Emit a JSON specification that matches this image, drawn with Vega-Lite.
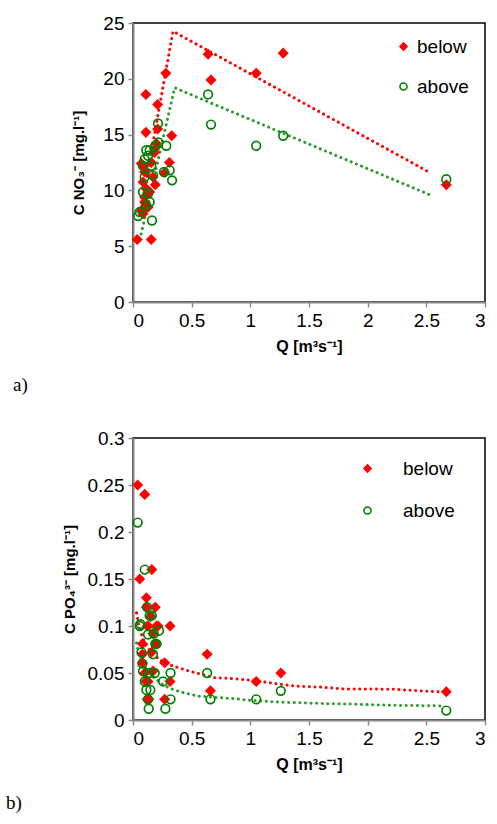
{
  "$schema": "https://vega.github.io/schema/vega-lite/v6.json",
  "padding": {"top": 13, "left": 5, "right": 5, "bottom": 5},
  "background": "white",
  "datasets": {
    "no3pts": [
      {"q": 0.036, "c": 5.6, "s": "below"}, {"q": 0.155, "c": 5.6, "s": "below"},
      {"q": 0.11, "c": 18.6, "s": "below"}, {"q": 0.28, "c": 20.5, "s": "below"},
      {"q": 0.21, "c": 17.7, "s": "below"}, {"q": 0.11, "c": 15.2, "s": "below"},
      {"q": 0.21, "c": 15.5, "s": "below"}, {"q": 0.33, "c": 14.9, "s": "below"},
      {"q": 0.31, "c": 12.5, "s": "below"}, {"q": 0.27, "c": 11.6, "s": "below"},
      {"q": 0.64, "c": 22.2, "s": "below"}, {"q": 0.665, "c": 19.9, "s": "below"},
      {"q": 1.05, "c": 20.5, "s": "below"}, {"q": 1.28, "c": 22.3, "s": "below"},
      {"q": 2.67, "c": 10.5, "s": "below"}, {"q": 0.071, "c": 12.4, "s": "below"},
      {"q": 0.099, "c": 11.65, "s": "below"}, {"q": 0.085, "c": 10.75, "s": "below"},
      {"q": 0.113, "c": 10.15, "s": "below"}, {"q": 0.142, "c": 9.86, "s": "below"},
      {"q": 0.099, "c": 8.96, "s": "below"}, {"q": 0.071, "c": 8.2, "s": "below"},
      {"q": 0.128, "c": 8.5, "s": "below"}, {"q": 0.156, "c": 12.5, "s": "below"},
      {"q": 0.199, "c": 14.2, "s": "below"}, {"q": 0.184, "c": 13.4, "s": "below"},
      {"q": 0.17, "c": 11.2, "s": "below"}, {"q": 0.099, "c": 9.4, "s": "below"},
      {"q": 0.085, "c": 7.9, "s": "below"}, {"q": 0.19, "c": 10.5, "s": "below"},
      {"q": 0.085, "c": 12.2, "s": "below"}, {"q": 0.184, "c": 13.7, "s": "below"},
      {"q": 0.213, "c": 16.0, "s": "above"}, {"q": 0.284, "c": 14.0, "s": "above"},
      {"q": 0.313, "c": 11.8, "s": "above"}, {"q": 0.333, "c": 10.9, "s": "above"},
      {"q": 0.264, "c": 11.65, "s": "above"}, {"q": 0.142, "c": 13.6, "s": "above"},
      {"q": 0.113, "c": 13.6, "s": "above"}, {"q": 0.099, "c": 12.8, "s": "above"},
      {"q": 0.19, "c": 14.0, "s": "above"}, {"q": 0.085, "c": 12.2, "s": "above"},
      {"q": 0.171, "c": 11.35, "s": "above"}, {"q": 0.099, "c": 11.2, "s": "above"},
      {"q": 0.085, "c": 9.86, "s": "above"}, {"q": 0.128, "c": 9.7, "s": "above"},
      {"q": 0.142, "c": 8.96, "s": "above"}, {"q": 0.113, "c": 8.66, "s": "above"},
      {"q": 0.056, "c": 8.06, "s": "above"}, {"q": 0.043, "c": 7.7, "s": "above"},
      {"q": 0.162, "c": 7.3, "s": "above"}, {"q": 0.156, "c": 12.2, "s": "above"},
      {"q": 0.128, "c": 13.1, "s": "above"}, {"q": 0.218, "c": 14.3, "s": "above"},
      {"q": 0.64, "c": 18.6, "s": "above"}, {"q": 0.665, "c": 15.9, "s": "above"},
      {"q": 1.05, "c": 14.0, "s": "above"}, {"q": 1.28, "c": 14.9, "s": "above"},
      {"q": 2.67, "c": 11.0, "s": "above"}
    ],
    "no3line": [
      {"q": 0.06, "c": 7.8, "s": "below"}, {"q": 0.341, "c": 24.26, "s": "below"}, {"q": 2.53, "c": 11.6, "s": "below"},
      {"q": 0.058, "c": 5.6, "s": "above"}, {"q": 0.355, "c": 19.2, "s": "above"}, {"q": 2.54, "c": 9.56, "s": "above"}
    ],
    "po4pts": [
      {"q": 0.04, "c": 0.25, "s": "below"}, {"q": 0.10, "c": 0.24, "s": "below"},
      {"q": 0.057, "c": 0.15, "s": "below"}, {"q": 0.16, "c": 0.16, "s": "below"},
      {"q": 0.114, "c": 0.13, "s": "below"}, {"q": 0.114, "c": 0.12, "s": "below"},
      {"q": 0.19, "c": 0.12, "s": "below"}, {"q": 0.15, "c": 0.11, "s": "below"},
      {"q": 0.122, "c": 0.10, "s": "below"}, {"q": 0.2, "c": 0.10, "s": "below"},
      {"q": 0.316, "c": 0.10, "s": "below"}, {"q": 0.17, "c": 0.092, "s": "below"},
      {"q": 0.08, "c": 0.081, "s": "below"}, {"q": 0.2, "c": 0.081, "s": "below"},
      {"q": 0.27, "c": 0.061, "s": "below"}, {"q": 0.632, "c": 0.07, "s": "below"},
      {"q": 1.26, "c": 0.05, "s": "below"}, {"q": 1.05, "c": 0.041, "s": "below"},
      {"q": 0.66, "c": 0.031, "s": "below"}, {"q": 0.316, "c": 0.041, "s": "below"},
      {"q": 0.27, "c": 0.022, "s": "below"}, {"q": 0.12, "c": 0.022, "s": "below"},
      {"q": 0.11, "c": 0.041, "s": "below"}, {"q": 2.67, "c": 0.03, "s": "below"},
      {"q": 0.128, "c": 0.10, "s": "below"}, {"q": 0.213, "c": 0.10, "s": "below"},
      {"q": 0.157, "c": 0.072, "s": "below"}, {"q": 0.08, "c": 0.07, "s": "below"},
      {"q": 0.08, "c": 0.061, "s": "below"}, {"q": 0.1, "c": 0.05, "s": "below"},
      {"q": 0.17, "c": 0.052, "s": "below"}, {"q": 0.136, "c": 0.022, "s": "below"},
      {"q": 0.128, "c": 0.041, "s": "below"},
      {"q": 0.04, "c": 0.21, "s": "above"}, {"q": 0.10, "c": 0.16, "s": "above"},
      {"q": 0.12, "c": 0.12, "s": "above"}, {"q": 0.142, "c": 0.111, "s": "above"},
      {"q": 0.16, "c": 0.111, "s": "above"}, {"q": 0.063, "c": 0.102, "s": "above"},
      {"q": 0.057, "c": 0.10, "s": "above"}, {"q": 0.176, "c": 0.092, "s": "above"},
      {"q": 0.222, "c": 0.095, "s": "above"}, {"q": 0.128, "c": 0.091, "s": "above"},
      {"q": 0.2, "c": 0.081, "s": "above"}, {"q": 0.19, "c": 0.081, "s": "above"},
      {"q": 0.072, "c": 0.072, "s": "above"}, {"q": 0.17, "c": 0.07, "s": "above"},
      {"q": 0.08, "c": 0.06, "s": "above"}, {"q": 0.085, "c": 0.052, "s": "above"},
      {"q": 0.14, "c": 0.05, "s": "above"}, {"q": 0.185, "c": 0.05, "s": "above"},
      {"q": 0.32, "c": 0.05, "s": "above"}, {"q": 0.632, "c": 0.05, "s": "above"},
      {"q": 0.1, "c": 0.041, "s": "above"}, {"q": 0.256, "c": 0.041, "s": "above"},
      {"q": 0.114, "c": 0.032, "s": "above"}, {"q": 0.148, "c": 0.032, "s": "above"},
      {"q": 0.128, "c": 0.022, "s": "above"}, {"q": 0.32, "c": 0.022, "s": "above"},
      {"q": 0.66, "c": 0.022, "s": "above"}, {"q": 1.05, "c": 0.022, "s": "above"},
      {"q": 1.26, "c": 0.031, "s": "above"}, {"q": 0.134, "c": 0.012, "s": "above"},
      {"q": 0.276, "c": 0.012, "s": "above"}, {"q": 2.67, "c": 0.01, "s": "above"}
    ],
    "po4line": [
      {"q": 0.03, "c": 0.114, "s": "below"}, {"q": 0.05, "c": 0.100, "s": "below"},
      {"q": 0.08, "c": 0.088, "s": "below"}, {"q": 0.12, "c": 0.078, "s": "below"},
      {"q": 0.15, "c": 0.073, "s": "below"}, {"q": 0.2, "c": 0.067, "s": "below"},
      {"q": 0.265, "c": 0.061, "s": "below"}, {"q": 0.35, "c": 0.057, "s": "below"},
      {"q": 0.48, "c": 0.052, "s": "below"}, {"q": 0.6, "c": 0.048, "s": "below"},
      {"q": 0.69, "c": 0.045, "s": "below"}, {"q": 0.85, "c": 0.044, "s": "below"},
      {"q": 1.03, "c": 0.042, "s": "below"}, {"q": 1.2, "c": 0.039, "s": "below"},
      {"q": 1.38, "c": 0.036, "s": "below"}, {"q": 1.6, "c": 0.035, "s": "below"},
      {"q": 1.8, "c": 0.033, "s": "below"}, {"q": 2.0, "c": 0.033, "s": "below"},
      {"q": 2.23, "c": 0.0326, "s": "below"}, {"q": 2.45, "c": 0.031, "s": "below"},
      {"q": 2.63, "c": 0.030, "s": "below"},
      {"q": 0.03, "c": 0.082, "s": "above"}, {"q": 0.05, "c": 0.070, "s": "above"},
      {"q": 0.08, "c": 0.060, "s": "above"}, {"q": 0.12, "c": 0.052, "s": "above"},
      {"q": 0.18, "c": 0.045, "s": "above"}, {"q": 0.25, "c": 0.038, "s": "above"},
      {"q": 0.31, "c": 0.034, "s": "above"}, {"q": 0.4, "c": 0.030, "s": "above"},
      {"q": 0.55, "c": 0.0255, "s": "above"}, {"q": 0.7, "c": 0.024, "s": "above"},
      {"q": 0.835, "c": 0.023, "s": "above"}, {"q": 1.0, "c": 0.021, "s": "above"},
      {"q": 1.12, "c": 0.020, "s": "above"}, {"q": 1.25, "c": 0.019, "s": "above"},
      {"q": 1.4, "c": 0.0184, "s": "above"}, {"q": 1.66, "c": 0.0174, "s": "above"},
      {"q": 1.9, "c": 0.0168, "s": "above"}, {"q": 2.09, "c": 0.016, "s": "above"},
      {"q": 2.3, "c": 0.0155, "s": "above"}, {"q": 2.63, "c": 0.015, "s": "above"}
    ]
  },
  "config": {
    "view": {"stroke": "#000000", "strokeWidth": 1.5},
    "axis": {
      "grid": false,
      "domainColor": "#888888",
      "domainWidth": 2,
      "tickColor": "#888888",
      "tickWidth": 1.5,
      "tickSize": 5,
      "labelFont": "Liberation Sans",
      "labelFontSize": 19,
      "labelColor": "#000000",
      "labelPadding": 4,
      "format": "~g",
      "titleFont": "Liberation Sans",
      "titleFontSize": 16,
      "titleFontWeight": "bold",
      "titleColor": "#000000"
    },
    "legend": {
      "labelFont": "Liberation Sans",
      "labelFontSize": 19,
      "labelColor": "#000000",
      "padding": 0
    }
  },
  "spacing": 32,
  "resolve": {"legend": {"shape": "independent", "fill": "independent", "stroke": "independent"}},
  "vconcat": [
    {
      "width": 352,
      "height": 279,
      "title": {"text": "a)", "orient": "bottom", "anchor": "start", "frame": "group", "dx": -120, "offset": 22, "font": "Liberation Serif", "fontSize": 19, "fontWeight": "normal", "color": "#000000"},
      "layer": [
        {
          "data": {"name": "no3line"},
          "transform": [{"filter": "datum.s === 'below'"}],
          "mark": {"type": "line", "color": "#FF0000", "strokeWidth": 3, "strokeDash": [0.1, 5.5], "strokeCap": "round"},
          "encoding": {"x": {"field": "q", "type": "quantitative"}, "y": {"field": "c", "type": "quantitative"}}
        },
        {
          "data": {"name": "no3line"},
          "transform": [{"filter": "datum.s === 'above'"}],
          "mark": {"type": "line", "color": "#2E9B2E", "strokeWidth": 3, "strokeDash": [0.1, 5.5], "strokeCap": "round"},
          "encoding": {"x": {"field": "q", "type": "quantitative"}, "y": {"field": "c", "type": "quantitative"}}
        },
        {
          "data": {"name": "no3pts"},
          "mark": {"type": "point", "size": 75, "strokeWidth": 1.7, "opacity": 1},
          "encoding": {
            "x": {"field": "q", "type": "quantitative", "scale": {"domain": [0, 3], "nice": false}, "axis": {"values": [0, 0.5, 1, 1.5, 2, 2.5, 3], "title": "Q [m³s⁻¹]", "titlePadding": 8}},
            "y": {"field": "c", "type": "quantitative", "scale": {"domain": [0, 25], "nice": false}, "axis": {"values": [0, 5, 10, 15, 20, 25], "title": "C NO₃⁻ [mg.l⁻¹]", "titleFontSize": 15, "titlePadding": 16}},
            "shape": {"field": "s", "type": "nominal", "scale": {"domain": ["below", "above"], "range": ["diamond", "circle"]}, "legend": {"title": null, "orient": "none", "legendX": 261, "legendY": 14, "rowPadding": 20, "labelOffset": 4, "symbolSize": 50, "symbolStrokeWidth": 1.6}},
            "fill": {"field": "s", "type": "nominal", "scale": {"domain": ["below", "above"], "range": ["#FF0000", "transparent"]}, "legend": {"title": null, "orient": "none", "legendX": 261, "legendY": 14, "rowPadding": 20, "labelOffset": 4, "symbolSize": 50, "symbolStrokeWidth": 1.6}},
            "stroke": {"field": "s", "type": "nominal", "scale": {"domain": ["below", "above"], "range": ["#FF0000", "#008000"]}, "legend": {"title": null, "orient": "none", "legendX": 261, "legendY": 14, "rowPadding": 20, "labelOffset": 4, "symbolSize": 50, "symbolStrokeWidth": 1.6}}
          }
        }
      ]
    },
    {
      "width": 352,
      "height": 282,
      "title": {"text": "b)", "orient": "bottom", "anchor": "start", "frame": "group", "dx": -127, "offset": 22, "font": "Liberation Serif", "fontSize": 19, "fontWeight": "normal", "color": "#000000"},
      "layer": [
        {
          "data": {"name": "po4line"},
          "transform": [{"filter": "datum.s === 'below'"}],
          "mark": {"type": "line", "color": "#FF0000", "strokeWidth": 3, "strokeDash": [0.1, 5.5], "strokeCap": "round"},
          "encoding": {"x": {"field": "q", "type": "quantitative"}, "y": {"field": "c", "type": "quantitative"}}
        },
        {
          "data": {"name": "po4line"},
          "transform": [{"filter": "datum.s === 'above'"}],
          "mark": {"type": "line", "color": "#2E9B2E", "strokeWidth": 3, "strokeDash": [0.1, 5.5], "strokeCap": "round"},
          "encoding": {"x": {"field": "q", "type": "quantitative"}, "y": {"field": "c", "type": "quantitative"}}
        },
        {
          "data": {"name": "po4pts"},
          "mark": {"type": "point", "size": 75, "strokeWidth": 1.7, "opacity": 1},
          "encoding": {
            "x": {"field": "q", "type": "quantitative", "scale": {"domain": [0, 3], "nice": false}, "axis": {"values": [0, 0.5, 1, 1.5, 2, 2.5, 3], "title": "Q [m³s⁻¹]", "titlePadding": 8}},
            "y": {"field": "c", "type": "quantitative", "scale": {"domain": [0, 0.3], "nice": false}, "axis": {"values": [0, 0.05, 0.1, 0.15, 0.2, 0.25, 0.3], "title": "C PO₄³⁻ [mg.l⁻¹]", "titleFontSize": 15, "titlePadding": 10}},
            "shape": {"field": "s", "type": "nominal", "scale": {"domain": ["below", "above"], "range": ["diamond", "circle"]}, "legend": {"title": null, "orient": "none", "legendX": 225, "legendY": 21, "rowPadding": 22, "labelOffset": 26, "symbolSize": 50, "symbolStrokeWidth": 1.6}},
            "fill": {"field": "s", "type": "nominal", "scale": {"domain": ["below", "above"], "range": ["#FF0000", "transparent"]}, "legend": {"title": null, "orient": "none", "legendX": 225, "legendY": 21, "rowPadding": 22, "labelOffset": 26, "symbolSize": 50, "symbolStrokeWidth": 1.6}},
            "stroke": {"field": "s", "type": "nominal", "scale": {"domain": ["below", "above"], "range": ["#FF0000", "#008000"]}, "legend": {"title": null, "orient": "none", "legendX": 225, "legendY": 21, "rowPadding": 22, "labelOffset": 26, "symbolSize": 50, "symbolStrokeWidth": 1.6}}
          }
        }
      ]
    }
  ]
}
